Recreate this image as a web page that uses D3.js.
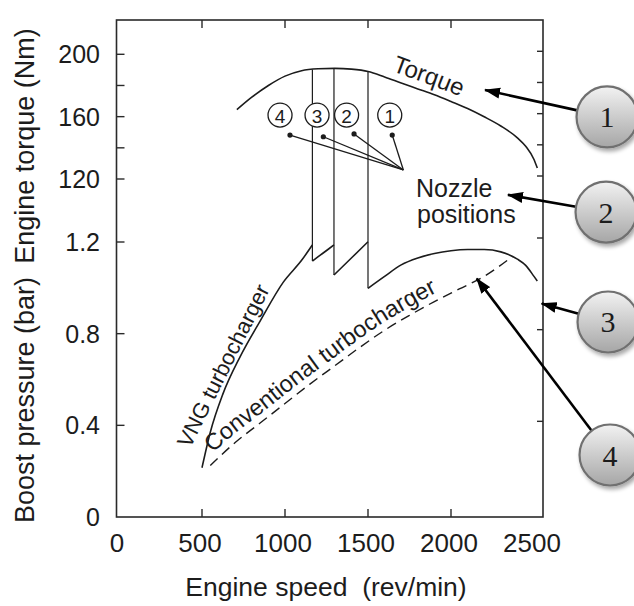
<!DOCTYPE html>
<html><head><meta charset="utf-8">
<script src="https://cdn.jsdelivr.net/npm/d3@7"></script>
<style>
body{margin:0;background:#fff}
svg{display:block}
text{font-family:"Liberation Sans",Arial,Helvetica,sans-serif;fill:#1c1c1c}
</style></head>
<body><svg id="c" width="634" height="606"></svg>
<script>
// ---------- data ----------
const speedTicks = [0, 500, 1000, 1500, 2000, 2500];
const speedInnerTicks = [500, 1000, 1500, 2000];
const torqueTicks = [120, 160, 200];
const torqueMinor = [140, 180];
const torqueRightTicks = [120, 140, 160, 180, 200];
const boostTicks = [0.4, 0.8, 1.2];
const boostLabels = ["0", "0.4", "0.8", "1.2"];
const boostLabelVals = [0, 0.4, 0.8, 1.2];

const torqueSpeed = [710, 800, 900, 1000, 1100, 1200, 1300, 1400, 1500, 1600, 1700, 1800, 1900, 2000, 2100, 2200, 2300, 2400, 2450, 2500, 2520];
const torqueVal   = [164.5, 172.5, 180, 186, 189.5, 190.7, 191, 190.5, 189, 185.5, 181.6, 177.8, 174, 169.7, 165.2, 159.9, 154, 146.4, 141, 132.5, 127];

// VNG boost, piecewise between nozzle switches
const vng0Speed = [500, 550, 625, 730, 850, 990, 1100, 1165];
const vng0Val   = [0.215, 0.37, 0.535, 0.70, 0.855, 1.025, 1.12, 1.187];
const vng1Speed = [1165, 1230, 1295];
const vng1Val   = [1.117, 1.152, 1.187];
const vng2Speed = [1295, 1400, 1500];
const vng2Val   = [1.056, 1.13, 1.201];
const vng3Speed = [1500, 1600, 1700, 1800, 1900, 2000, 2100, 2200, 2300, 2400, 2450, 2500, 2520];
const vng3Val   = [0.998, 1.05, 1.10, 1.13, 1.15, 1.162, 1.167, 1.167, 1.157, 1.125, 1.098, 1.05, 1.03];

const switchSpeed = [1165, 1295, 1500];
const switchLow   = [1.117, 1.056, 0.998];

const convSpeed = [550, 700, 850, 1000, 1150, 1300, 1450, 1600, 1750, 1900, 2050, 2200, 2370];
const convVal   = [0.225, 0.325, 0.41, 0.495, 0.58, 0.66, 0.74, 0.815, 0.88, 0.94, 0.995, 1.05, 1.137];

// nozzle position markers (label in torque/speed space)
const nozzleNames = ["4", "3", "2", "1"];
const nozzleLabelSpeed = [970, 1193, 1371, 1631];
const nozzleLabelTorque = 161;
const nozzleDotSpeed = [1030, 1231, 1416, 1646];
const nozzleDotTorque = [148.2, 147.1, 148.9, 148.2];
const nozzleHub = [1713, 125.8];

// callouts (speed, value on 't'orque or 'b'oost axis)
const callNums = ["1", "2", "3", "4"];
const callCenter = [[2940, 159.8, "t"], [2934, 98.8, "t"], [2946, 0.851, "b"], [2958, 0.2705, "b"]];
const callTip    = [[2205, 177.1, "t"], [2343, 109.8, "t"], [2546, 0.932, "b"], [2155, 1.041, "b"]];

// ---------- scales ----------
const svg = d3.select("#c");
const x = d3.scaleLinear().domain([0, 2500]).range([119, 534]);
const yT = d3.scaleLinear().domain([120, 200]).range([179, 54.3]);
const yB = d3.scaleLinear().domain([0, 1.2]).range([517, 242]);
const frame = {l: 116.5, r: 543, t: 20, b: 517};
const ink = "#1c1c1c";

// defs
const defs = svg.append("defs");
const g1 = defs.append("linearGradient").attr("id", "cg").attr("x1", 0).attr("y1", 0).attr("x2", 0).attr("y2", 1);
g1.append("stop").attr("offset", "0%").attr("stop-color", "#f2f2f2");
g1.append("stop").attr("offset", "100%").attr("stop-color", "#a6a6a6");
const f = defs.append("filter").attr("id", "sh").attr("x", "-30%").attr("y", "-30%").attr("width", "170%").attr("height", "170%");
f.append("feGaussianBlur").attr("in", "SourceAlpha").attr("stdDeviation", 2).attr("result", "b");
f.append("feOffset").attr("in", "b").attr("dx", 2).attr("dy", 3).attr("result", "o");
f.append("feComponentTransfer").attr("in", "o").attr("result", "o2").append("feFuncA").attr("type", "linear").attr("slope", 0.35);
const fm = f.append("feMerge"); fm.append("feMergeNode").attr("in", "o2"); fm.append("feMergeNode").attr("in", "SourceGraphic");
defs.append("marker").attr("id", "ah").attr("markerUnits", "userSpaceOnUse")
  .attr("viewBox", "0 -6 16 12").attr("refX", 15).attr("refY", 0).attr("markerWidth", 16).attr("markerHeight", 12)
  .attr("orient", "auto").append("path").attr("d", "M0,-5.5L16,0L0,5.5Z").attr("fill", "#000");

// frame
svg.append("rect").attr("x", frame.l).attr("y", frame.t).attr("width", frame.r - frame.l).attr("height", frame.b - frame.t)
  .attr("fill", "none").attr("stroke", "#2a2a2a").attr("stroke-width", 1.6);

const tk = 8;
svg.append("g").selectAll("line").data(torqueTicks.concat(torqueMinor)).join("line")
  .attr("x1", frame.l).attr("x2", frame.l + tk).attr("y1", d => yT(d)).attr("y2", d => yT(d))
  .attr("stroke", "#2a2a2a").attr("stroke-width", 1.4);
svg.append("g").selectAll("line").data(boostTicks).join("line")
  .attr("x1", frame.l).attr("x2", frame.l + tk).attr("y1", d => yB(d)).attr("y2", d => yB(d))
  .attr("stroke", "#2a2a2a").attr("stroke-width", 1.4);
svg.append("g").selectAll("line").data(torqueRightTicks).join("line")
  .attr("x1", frame.r).attr("x2", frame.r - 6).attr("y1", d => yT(d) - 3).attr("y2", d => yT(d) - 3)
  .attr("stroke", "#2a2a2a").attr("stroke-width", 1.4);
svg.append("g").selectAll("line").data(boostTicks).join("line")
  .attr("x1", frame.r).attr("x2", frame.r - 6).attr("y1", d => yB(d) - 4).attr("y2", d => yB(d) - 4)
  .attr("stroke", "#2a2a2a").attr("stroke-width", 1.4);
svg.append("g").selectAll("line").data(speedInnerTicks).join("line")
  .attr("x1", d => x(d)).attr("x2", d => x(d)).attr("y1", frame.t).attr("y2", frame.t + tk)
  .attr("stroke", "#2a2a2a").attr("stroke-width", 1.4);
svg.append("g").selectAll("line").data(speedInnerTicks).join("line")
  .attr("x1", d => x(d)).attr("x2", d => x(d)).attr("y1", frame.b).attr("y2", frame.b - tk)
  .attr("stroke", "#2a2a2a").attr("stroke-width", 1.4);

// tick labels
svg.append("g").selectAll("text").data(torqueTicks).join("text")
  .attr("x", 100).attr("y", d => yT(d)).attr("text-anchor", "end").attr("dominant-baseline", "central")
  .attr("font-size", 25).text(d => d);
svg.append("g").selectAll("text").data(boostLabelVals).join("text")
  .attr("x", 100).attr("y", d => yB(d)).attr("text-anchor", "end").attr("dominant-baseline", "central")
  .attr("font-size", 25).text((d, i) => boostLabels[i]);
svg.append("g").selectAll("text").data(speedTicks).join("text")
  .attr("x", d => x(d) - 2).attr("y", 552).attr("text-anchor", "middle")
  .attr("font-size", 26).text(d => d);

// axis titles
svg.append("text").attr("transform", `translate(34,146) rotate(-90)`).attr("text-anchor", "middle")
  .attr("font-size", 27).text("Engine torque (Nm)");
svg.append("text").attr("transform", `translate(34,400) rotate(-90)`).attr("text-anchor", "middle")
  .attr("font-size", 27).text("Boost pressure (bar)");
svg.append("text").attr("x", (185 + 467) / 2).attr("y", 596).attr("text-anchor", "middle")
  .attr("font-size", 26.5).attr("xml:space", "preserve").text("Engine speed  (rev/min)");

// curves
const lineT = d3.line().x((d, i) => x(torqueSpeed[i])).y(d => yT(d)).curve(d3.curveMonotoneX);
const torquePath = svg.append("path").attr("d", lineT(torqueVal)).attr("fill", "none").attr("stroke", ink).attr("stroke-width", 1.6);

function boostLine(sp, vals) {
  return d3.line().x((d, i) => x(sp[i])).y(d => yB(d)).curve(d3.curveMonotoneX)(vals);
}
const vngPath0 = svg.append("path").attr("d", boostLine(vng0Speed, vng0Val)).attr("fill", "none").attr("stroke", ink).attr("stroke-width", 1.6);
[[vng1Speed, vng1Val], [vng2Speed, vng2Val], [vng3Speed, vng3Val]].forEach(([s, v]) => {
  svg.append("path").attr("d", boostLine(s, v)).attr("fill", "none").attr("stroke", ink).attr("stroke-width", 1.6);
});
const torqueAt = s => d3.scaleLinear().domain(torqueSpeed).range(torqueVal)(s);
svg.append("g").selectAll("line").data(switchSpeed).join("line")
  .attr("x1", d => x(d)).attr("x2", d => x(d)).attr("y1", d => yT(torqueAt(d))).attr("y2", (d, i) => yB(switchLow[i]))
  .attr("stroke", ink).attr("stroke-width", 1.2);

const convPath = svg.append("path").attr("d", boostLine(convSpeed, convVal)).attr("fill", "none").attr("stroke", ink)
  .attr("stroke-width", 1.4).attr("stroke-dasharray", "10,6");

// text along curves
function offsetPath(node, x0, x1, d) {
  const L = node.getTotalLength(), pts = [];
  for (let l = 0; l <= L; l += 1.5) { const p = node.getPointAtLength(l); if (p.x >= x0 && p.x <= x1) pts.push([p.x, p.y]); }
  const out = pts.map((p, i) => {
    const a = pts[Math.max(0, i - 3)], b = pts[Math.min(pts.length - 1, i + 3)];
    const dx = b[0] - a[0], dy = b[1] - a[1], len = Math.hypot(dx, dy) || 1;
    return [p[0] + d * dy / len, p[1] - d * dx / len];
  });
  return d3.line()(out);
}
function curvedLabel(id, node, s0, s1, d, txt, size) {
  defs.append("path").attr("id", id).attr("d", offsetPath(node, x(s0), x(s1), d));
  svg.append("text").attr("font-size", size).append("textPath").attr("href", "#" + id).text(txt);
}
curvedLabel("pc", convPath.node(), 595, 2360, 7, "Conventional turbocharger", 23.5);
curvedLabel("pt", torquePath.node(), 1620, 2400, 8, "Torque", 24);

// VNG label: straight, anchored in data space
svg.append("text").attr("transform", `translate(${x(428)},${yB(0.297)}) rotate(-63.4)`)
  .attr("font-size", 22).text("VNG turbocharger");

// nozzle markers
svg.append("g").selectAll("circle").data(nozzleLabelSpeed).join("circle")
  .attr("cx", d => x(d)).attr("cy", yT(nozzleLabelTorque)).attr("r", 12)
  .attr("fill", "#fff").attr("stroke", ink).attr("stroke-width", 1.3);
svg.append("g").selectAll("text").data(nozzleLabelSpeed).join("text")
  .attr("x", d => x(d)).attr("y", yT(nozzleLabelTorque) + 1).attr("text-anchor", "middle").attr("dominant-baseline", "central")
  .attr("font-size", 19).text((d, i) => nozzleNames[i]);
svg.append("g").selectAll("line").data(nozzleDotSpeed).join("line")
  .attr("x1", d => x(d)).attr("y1", (d, i) => yT(nozzleDotTorque[i]))
  .attr("x2", x(nozzleHub[0])).attr("y2", yT(nozzleHub[1])).attr("stroke", ink).attr("stroke-width", 1.3);
svg.append("g").selectAll("circle").data(nozzleDotSpeed).join("circle")
  .attr("cx", d => x(d)).attr("cy", (d, i) => yT(nozzleDotTorque[i])).attr("r", 2.6).attr("fill", ink);

svg.append("text").attr("x", 416).attr("y", 197).attr("font-size", 25).text("Nozzle");
svg.append("text").attr("x", 417).attr("y", 223).attr("font-size", 25).text("positions");

// callouts
const pos = p => [x(p[0]), p[2] === "t" ? yT(p[1]) : yB(p[1])];
const R = 30.5;
callCenter.forEach((c, i) => {
  const [cx, cy] = pos(c), [tx, ty] = pos(callTip[i]);
  const dx = tx - cx, dy = ty - cy, len = Math.hypot(dx, dy);
  svg.append("line").attr("x1", cx + R * dx / len).attr("y1", cy + R * dy / len).attr("x2", tx).attr("y2", ty)
    .attr("stroke", "#000").attr("stroke-width", 2.6).attr("marker-end", "url(#ah)");
  svg.append("circle").attr("cx", cx).attr("cy", cy).attr("r", R).attr("fill", "url(#cg)")
    .attr("stroke", "#707070").attr("stroke-width", 2.2).attr("filter", "url(#sh)");
  svg.append("text").attr("x", cx).attr("y", cy + 10.5).attr("text-anchor", "middle")
    .style("font-family", "'Liberation Serif','Times New Roman',serif").attr("font-size", 30).attr("fill", "#111").text(callNums[i]);
});
</script></body></html>
